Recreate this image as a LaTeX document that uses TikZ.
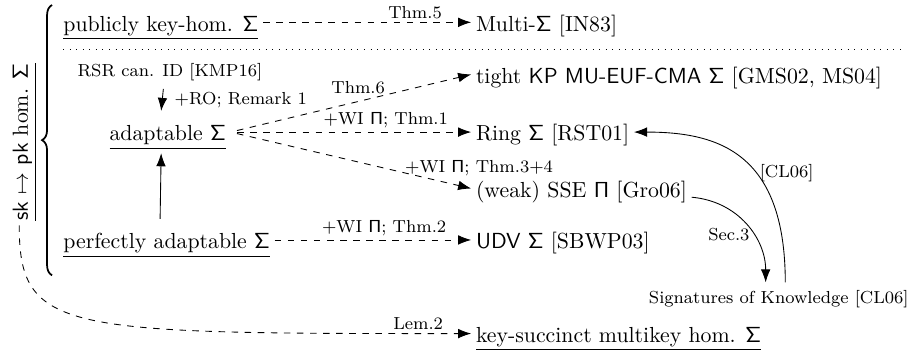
\documentclass[tikz,border=0pt]{standalone}
\usepackage{amsmath}
\usepackage{tikz}
\usetikzlibrary{arrows.meta, positioning, decorations.pathreplacing}
\newcommand{\sSigma}{\ensuremath{\mathsf{\Sigma}}}
\newcommand{\sPi}{\ensuremath{\mathsf{\Pi}}}
\tikzset{
  claim/.style={anchor=west, inner sep=2pt, text height=11.5pt,
    text depth=3.5pt, font=\normalsize},
  note/.style={font=\footnotesize},
  lbl/.style={font=\footnotesize, inner sep=1.5pt},
  arrow/.style={-{Latex[length=6pt,width=4.4pt]}},
  dasharrow/.style={arrow, dashed},
  bigbrace/.style={thick, decorate, decoration={brace, amplitude=4.6pt}}
}

\begin{document}
\begin{tikzpicture}
  \useasboundingbox (0,0) rectangle (14.79,-5.645);

  % Left column
  \node[claim] (pub) at (0.945,-0.36) {\underline{publicly key-hom. \sSigma}};
  \node[note] (rsr) at (2.74,-1.17) {RSR can. ID [KMP16]};
  \node[claim] (adapt) at (1.69,-2.13) {\underline{adaptable \sSigma}};
  \node[claim] (perf) at (0.945,-3.87) {\underline{perfectly adaptable \sSigma}};

  % Right column
  \node[claim] (multi) at (7.6,-0.36) {Multi-\sSigma{} [IN83]};
  \node[claim] (tight) at (7.6,-1.20) {tight \textsf{KP MU-EUF-CMA} \sSigma{} [GMS02, MS04]};
  \node[claim] (ring) at (7.6,-2.13) {Ring \sSigma{} [RST01]};
  \node[claim] (sse) at (7.6,-3.04) {(weak) SSE \sPi{} [Gro06]};
  \node[claim] (udv) at (7.6,-3.87) {\textsf{UDV} \sSigma{} [SBWP03]};
  \node[note] (sok) at (12.56,-4.82) {Signatures of Knowledge [CL06]};
  \node[claim] (succ) at (7.6,-5.38) {\underline{key-succinct multikey hom. \sSigma}};

  % Separator
  \draw[dash pattern=on 0.4pt off 2.6pt] (1.02,-0.79) -- (14.6,-0.79);

  % Brace with rotated label
  \draw[bigbrace] (0.84,-4.44) -- (0.84,-0.08);
  \node[claim, anchor=center, rotate=90] (skpk) at (0.31,-2.29)
    {\underline{\textsf{sk} $\mapsto$ \textsf{pk} hom. \sSigma}};

  % Implications
  \draw[dasharrow] (pub.east) -- (multi.west) node[lbl, pos=0.73, above] {Thm.5};
  \draw[arrow] ([xshift=-3pt]rsr.south) -- ([xshift=-3pt]adapt.north)
    node[lbl, midway, right=4pt] {+RO; Remark 1};
  \draw[arrow] ([xshift=-3pt]perf.north) -- ([xshift=-3pt]adapt.south);
  \draw[dasharrow, shorten <=3pt] (adapt.east) -- (tight.west) node[lbl, pos=0.53, above=2pt] {Thm.6};
  \draw[dasharrow, shorten <=3pt] (adapt.east) -- (ring.west) node[lbl, pos=0.645, above] {+WI \sPi; Thm.1};
  \draw[dasharrow, shorten <=3pt] (adapt.east) -- (sse.west) node[lbl, pos=0.71, anchor=base west] {+WI \sPi; Thm.3+4};
  \draw[dasharrow] (perf.east) -- (udv.west) node[lbl, pos=0.557, above] {+WI \sPi; Thm.2};

  % Signatures of Knowledge
  \draw[arrow] (sse.base east) .. controls +(-5:0.76) and +(90:0.7) .. ([xshift=-6pt]sok.north)
    node[lbl, pos=0.6, left] {Sec.3};
  \draw[arrow] ([xshift=3pt]sok.north) .. controls +(90:2.1) and +(0:1.35) .. (ring.east)
    node[lbl, pos=0.4, right] {[CL06]};

  % Key-succinct
  \draw[dasharrow] (skpk.west) .. controls +(-90:1.73) and +(180:6.6) .. (succ.west)
    node[lbl, pos=0.955, above] {Lem.2};
\end{tikzpicture}
\end{document}
